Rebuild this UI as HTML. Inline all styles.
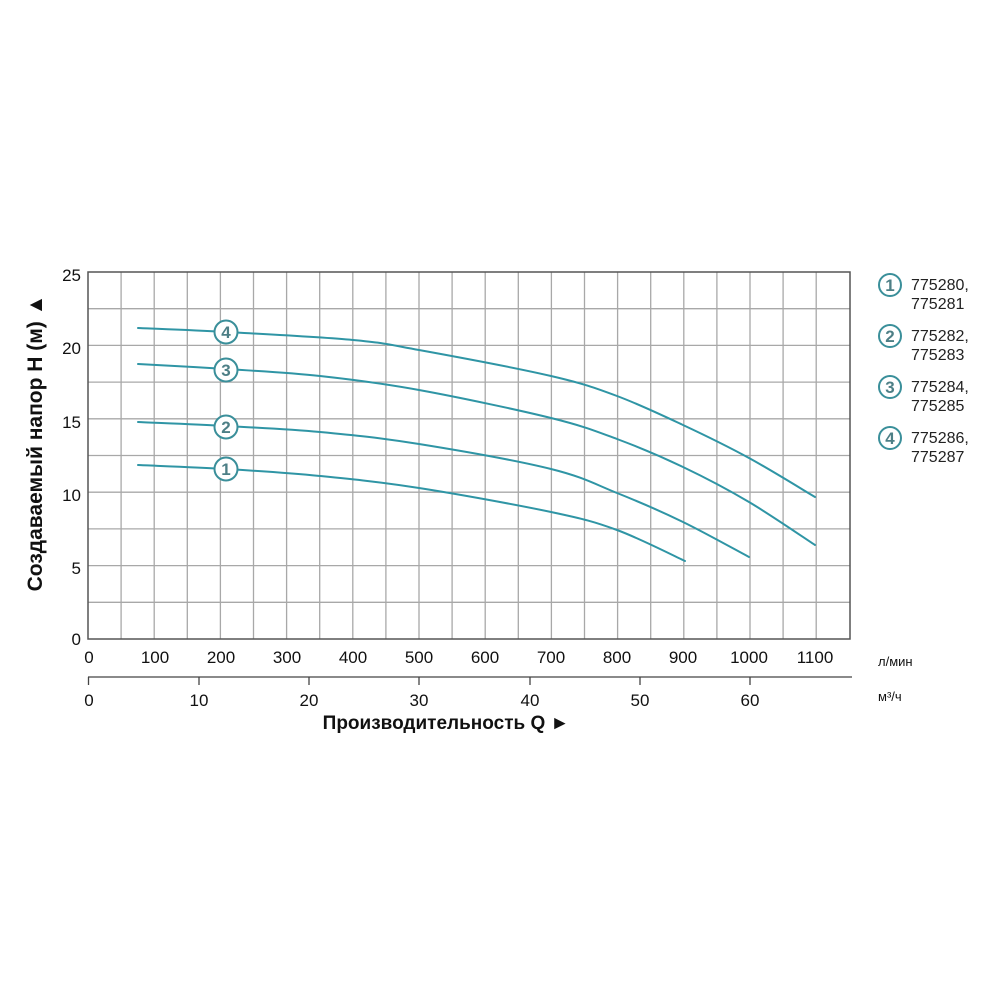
<!DOCTYPE html>
<html><head><meta charset="utf-8"><style>
body{margin:0;background:#fff;}
svg{display:block;font-family:"Liberation Sans",Arial,sans-serif;}
</style></head><body>
<svg id="s" width="1000" height="1000" viewBox="0 0 1000 1000" xmlns="http://www.w3.org/2000/svg">
<g stroke="#a8a8a8" stroke-width="1.3">
<line x1="121.1" y1="272" x2="121.1" y2="639"/><line x1="154.2" y1="272" x2="154.2" y2="639"/><line x1="187.3" y1="272" x2="187.3" y2="639"/><line x1="220.4" y1="272" x2="220.4" y2="639"/><line x1="253.5" y1="272" x2="253.5" y2="639"/><line x1="286.6" y1="272" x2="286.6" y2="639"/><line x1="319.7" y1="272" x2="319.7" y2="639"/><line x1="352.8" y1="272" x2="352.8" y2="639"/><line x1="385.9" y1="272" x2="385.9" y2="639"/><line x1="419" y1="272" x2="419" y2="639"/><line x1="452.1" y1="272" x2="452.1" y2="639"/><line x1="485.2" y1="272" x2="485.2" y2="639"/><line x1="518.3" y1="272" x2="518.3" y2="639"/><line x1="551.4" y1="272" x2="551.4" y2="639"/><line x1="584.5" y1="272" x2="584.5" y2="639"/><line x1="617.6" y1="272" x2="617.6" y2="639"/><line x1="650.7" y1="272" x2="650.7" y2="639"/><line x1="683.8" y1="272" x2="683.8" y2="639"/><line x1="716.9" y1="272" x2="716.9" y2="639"/><line x1="750" y1="272" x2="750" y2="639"/><line x1="783.1" y1="272" x2="783.1" y2="639"/><line x1="816.2" y1="272" x2="816.2" y2="639"/>
<line x1="88" y1="308.7" x2="850" y2="308.7"/><line x1="88" y1="345.4" x2="850" y2="345.4"/><line x1="88" y1="382.1" x2="850" y2="382.1"/><line x1="88" y1="418.8" x2="850" y2="418.8"/><line x1="88" y1="455.5" x2="850" y2="455.5"/><line x1="88" y1="492.2" x2="850" y2="492.2"/><line x1="88" y1="528.9" x2="850" y2="528.9"/><line x1="88" y1="565.6" x2="850" y2="565.6"/><line x1="88" y1="602.3" x2="850" y2="602.3"/>
</g>
<rect x="88" y="272" width="762" height="367" fill="none" stroke="#555" stroke-width="1.5"/>
<g font-size="17" fill="#111" text-anchor="end">
<text x="81" y="281">25</text><text x="81" y="354">20</text><text x="81" y="428">15</text><text x="81" y="501">10</text><text x="81" y="574">5</text><text x="81" y="645">0</text>
</g>
<g font-size="17" fill="#111" text-anchor="middle">
<text x="89" y="663">0</text><text x="155" y="663">100</text><text x="221" y="663">200</text><text x="287" y="663">300</text><text x="353" y="663">400</text><text x="419" y="663">500</text><text x="485" y="663">600</text><text x="551" y="663">700</text><text x="617" y="663">800</text><text x="683" y="663">900</text><text x="749" y="663">1000</text><text x="815" y="663">1100</text>
<text x="89" y="706">0</text><text x="199" y="706">10</text><text x="309" y="706">20</text><text x="419" y="706">30</text><text x="530" y="706">40</text><text x="640" y="706">50</text><text x="750" y="706">60</text>
</g>
<text x="878" y="666" font-size="13" fill="#111">л/мин</text>
<text x="878" y="701" font-size="13" fill="#111">м³/ч</text>
<g stroke="#444" stroke-width="1.3">
<line x1="88" y1="677" x2="852" y2="677"/>
<line x1="88.5" y1="677" x2="88.5" y2="685"/><line x1="199" y1="677" x2="199" y2="685"/><line x1="309" y1="677" x2="309" y2="685"/><line x1="419" y1="677" x2="419" y2="685"/><line x1="530" y1="677" x2="530" y2="685"/><line x1="640" y1="677" x2="640" y2="685"/><line x1="750" y1="677" x2="750" y2="685"/>
</g>
<text x="446" y="729" font-size="19" font-weight="bold" text-anchor="middle" fill="#111">Производительность Q ►</text>
<text transform="translate(42,443) rotate(-90)" font-size="21" font-weight="bold" text-anchor="middle" fill="#111">Создаваемый напор H (м) ▲</text>
<g id="curves" fill="none" stroke="#2f95a5" stroke-width="2" stroke-linejoin="round" stroke-linecap="round">
<path id="c1"/><path id="c2"/><path id="c3"/><path id="c4"/>
</g>
<g font-size="17" font-weight="bold" fill="#4d7f86" text-anchor="middle">
<circle cx="226" cy="469" r="11.5" fill="#fff" stroke="#3a8f9a" stroke-width="2"/><text x="226" y="475">1</text>
<circle cx="226" cy="427" r="11.5" fill="#fff" stroke="#3a8f9a" stroke-width="2"/><text x="226" y="433">2</text>
<circle cx="226" cy="370" r="11.5" fill="#fff" stroke="#3a8f9a" stroke-width="2"/><text x="226" y="376">3</text>
<circle cx="226" cy="332" r="11.5" fill="#fff" stroke="#3a8f9a" stroke-width="2"/><text x="226" y="338">4</text>
<circle cx="890" cy="285" r="11" fill="#fff" stroke="#3a8f9a" stroke-width="2"/><text x="890" y="291">1</text>
<circle cx="890" cy="336" r="11" fill="#fff" stroke="#3a8f9a" stroke-width="2"/><text x="890" y="342">2</text>
<circle cx="890" cy="387" r="11" fill="#fff" stroke="#3a8f9a" stroke-width="2"/><text x="890" y="393">3</text>
<circle cx="890" cy="438" r="11" fill="#fff" stroke="#3a8f9a" stroke-width="2"/><text x="890" y="444">4</text>
</g>
<g font-size="16" fill="#222">
<text x="911" y="290">775280,</text><text x="911" y="309">775281</text>
<text x="911" y="341">775282,</text><text x="911" y="360">775283</text>
<text x="911" y="392">775284,</text><text x="911" y="411">775285</text>
<text x="911" y="443">775286,</text><text x="911" y="462">775287</text>
</g>
</svg>
<script>
function cr(p){var d="M"+p[0][0]+","+p[0][1];for(var i=0;i<p.length-1;i++){var p0=p[i-1]||p[i],p1=p[i],p2=p[i+1],p3=p[i+2]||p2;
var c1x=p1[0]+(p2[0]-p0[0])/6,c1y=p1[1]+(p2[1]-p0[1])/6,c2x=p2[0]-(p3[0]-p1[0])/6,c2y=p2[1]-(p3[1]-p1[1])/6;
d+=" C"+c1x.toFixed(1)+","+c1y.toFixed(1)+" "+c2x.toFixed(1)+","+c2y.toFixed(1)+" "+p2[0]+","+p2[1];}return d;}
var D={c1:[[138,465],[226,469],[320,476],[419,488],[551,512],[617,530],[685,561]],
c2:[[138,422],[226,426],[320,432],[419,444],[551,469],[617,493],[683,522],[749,557]],
c3:[[138,364],[226,369],[320,376],[419,390],[551,418],[617,439],[683,467],[749,502],[815,545]],
c4:[[138,328],[226,332],[353,340],[419,350],[551,376],[617,396],[683,425],[749,458],[815,497]]};
for(var k in D)document.getElementById(k).setAttribute("d",cr(D[k]));
</script>
</body></html>
